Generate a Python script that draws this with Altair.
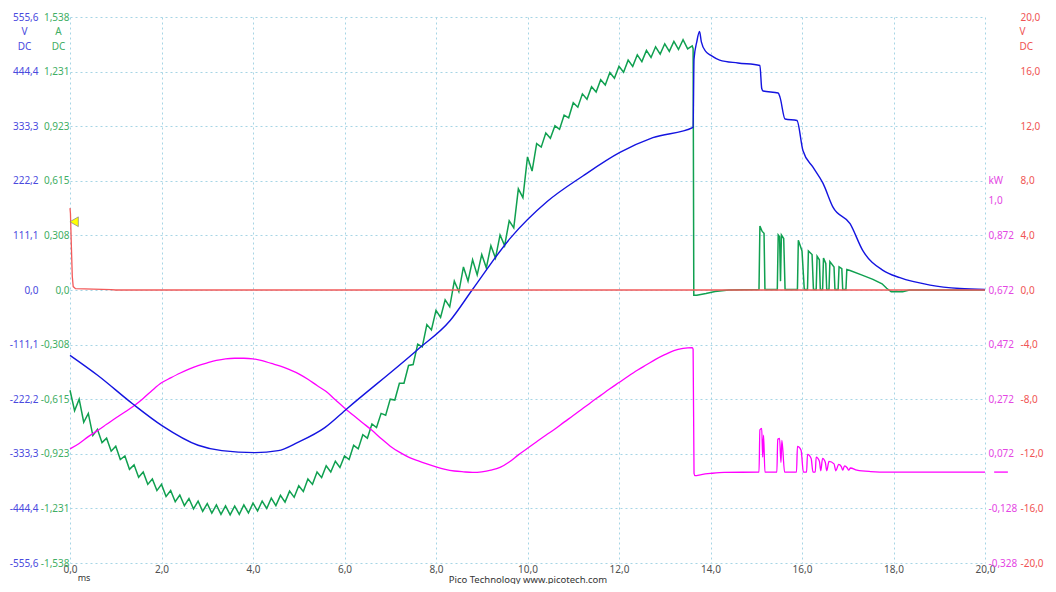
import altair as alt
import pandas as pd

FONT = "Noto Sans"
GRID = "#a6d5e5"

# ---------------- axis tick values ----------------
X_TICKS = [0, 2, 4, 6, 8, 10, 12, 14, 16, 18, 20]
V_TICKS = [-555.6, -444.4, -333.3, -222.2, -111.1, 0, 111.1, 222.2, 333.3, 444.4, 555.6]
A_TICKS = [-1.538, -1.231, -0.923, -0.615, -0.308, 0, 0.308, 0.615, 0.923, 1.231, 1.538]
KW_TICKS = [1.0, 0.872, 0.672, 0.472, 0.272, 0.072, -0.128, -0.328]
RV_TICKS = [-20, -16, -12, -8, -4, 0, 4, 8, 12, 16, 20]

# ---------------- Channel B: current (A), green ----------------
A_T_MAIN = [round(i * 0.1, 1) for i in range(137)]
A_MAIN = [
    -0.565, -0.680, -0.615, -0.745, -0.695, -0.820, -0.785, -0.860, -0.835, -0.908,
    -0.880, -0.955, -0.935, -1.010, -0.985, -1.055, -1.025, -1.095, -1.065, -1.130,
    -1.095, -1.163, -1.130, -1.193, -1.155, -1.215, -1.175, -1.233, -1.190, -1.247,
    -1.203, -1.257, -1.211, -1.264, -1.216, -1.267, -1.217, -1.264, -1.211, -1.256,
    -1.201, -1.245, -1.189, -1.231, -1.173, -1.215, -1.157, -1.195, -1.133, -1.168,
    -1.103, -1.135, -1.065, -1.095, -1.025, -1.057, -0.990, -1.025, -0.965, -1.000,
    -0.935, -0.955, -0.875, -0.895, -0.815, -0.835, -0.755, -0.775, -0.695, -0.705,
    -0.615, -0.620, -0.525, -0.525, -0.425, -0.420, -0.305, -0.320, -0.195, -0.225,
    -0.115, -0.155, -0.055, -0.095, 0.050, -0.010, 0.130, 0.050, 0.170, 0.085,
    0.200, 0.125, 0.250, 0.180, 0.310, 0.250, 0.390, 0.350, 0.570, 0.520,
    0.750, 0.670, 0.825, 0.805, 0.885, 0.855, 0.925, 0.905, 0.985, 0.970,
    1.055, 1.030, 1.105, 1.075, 1.145, 1.115, 1.185, 1.155, 1.225, 1.193,
    1.260, 1.227, 1.295, 1.260, 1.325, 1.287, 1.350, 1.310, 1.370, 1.329,
    1.387, 1.344, 1.400, 1.355, 1.410, 1.358, 1.375,
]
A_TAIL = [
    (13.62, 1.36), (13.635, -0.03), (13.70, -0.03), (13.90, -0.02), (14.10, -0.008),
    (14.40, 0.0), (15.06, 0.003), (15.08, 0.36), (15.13, 0.33), (15.17, 0.32),
    (15.19, 0.003), (15.46, 0.003), (15.48, 0.31), (15.51, 0.30), (15.53, 0.05),
    (15.55, 0.31), (15.60, 0.29), (15.63, 0.003), (15.90, 0.003), (15.92, 0.28),
    (16.00, 0.22), (16.05, 0.003), (16.12, 0.003), (16.14, 0.22), (16.22, 0.20),
    (16.25, 0.003), (16.31, 0.003), (16.33, 0.19), (16.38, 0.17), (16.40, 0.003),
    (16.45, 0.003), (16.47, 0.18), (16.52, 0.15), (16.54, 0.003), (16.59, 0.003),
    (16.61, 0.16), (16.70, 0.13), (16.72, 0.003), (16.79, 0.003), (16.81, 0.13),
    (16.87, 0.12), (16.89, 0.003), (16.96, 0.003), (16.98, 0.115), (17.05, 0.11),
    (17.30, 0.085), (17.55, 0.06), (17.75, 0.035), (17.85, 0.01), (17.95, -0.01),
    (18.20, -0.01), (18.35, 0.0), (20.0, 0.0),
]

# ---------------- Channel A: voltage (V), blue ----------------
V_DATA = [
    (0.0, -133), (0.61, -174), (1.36, -231), (2.01, -276), (2.8, -316), (3.32, -327),
    (4.04, -331), (4.55, -327), (4.98, -310), (5.57, -280), (6.06, -241), (7.59, -122),
    (8.31, -62), (8.79, 0), (9.62, 105), (10.43, 180), (11.21, 232), (12.02, 280),
    (12.74, 310), (13.62, 331), (13.64, 470), (13.70, 505), (13.76, 526), (13.80, 505),
    (13.90, 485), (14.0, 478), (14.2, 468), (14.6, 462), (15.08, 457), (15.12, 410),
    (15.15, 405), (15.48, 401), (15.52, 392), (15.63, 348), (15.89, 345), (16.02, 284),
    (16.24, 250), (16.46, 217), (16.68, 168), (17.05, 135), (17.33, 80), (17.77, 40),
    (18.14, 25), (18.8, 10), (19.45, 3), (20.0, 1),
]

# ---------------- Math channel: power (kW), magenta ----------------
KW_T_MAIN = [round(i * 0.2, 1) for i in range(69)]
KW_MAIN = [
    0.090, 0.110, 0.135, 0.157, 0.180, 0.203, 0.225, 0.248, 0.275, 0.305,
    0.332, 0.350, 0.367, 0.382, 0.395, 0.405, 0.414, 0.420, 0.422, 0.422,
    0.420, 0.413, 0.403, 0.393, 0.380, 0.365, 0.345, 0.322, 0.300, 0.270,
    0.240, 0.212, 0.185, 0.158, 0.128, 0.100, 0.078, 0.060, 0.047, 0.035,
    0.024, 0.015, 0.009, 0.006, 0.004, 0.006, 0.012, 0.022, 0.042, 0.068,
    0.092, 0.116, 0.140, 0.163, 0.188, 0.212, 0.237, 0.262, 0.286, 0.310,
    0.333, 0.356, 0.378, 0.398, 0.418, 0.435, 0.450, 0.458, 0.461,
]
KW_TAIL = [
    (13.62, 0.455), (13.64, 0.0), (13.66, -0.008), (13.8, -0.004), (14.0, 0.0),
    (14.3, 0.004), (15.06, 0.005), (15.08, 0.160), (15.12, 0.165), (15.14, 0.06),
    (15.16, 0.140), (15.19, 0.005), (15.45, 0.005), (15.47, 0.125), (15.51, 0.128),
    (15.54, 0.04), (15.56, 0.121), (15.62, 0.005), (15.88, 0.005), (15.90, 0.099),
    (15.98, 0.085), (16.03, 0.005), (16.10, 0.005), (16.12, 0.070), (16.20, 0.055),
    (16.24, 0.005), (16.29, 0.005), (16.31, 0.060), (16.38, 0.045), (16.41, 0.010),
    (16.45, 0.055), (16.51, 0.040), (16.54, 0.010), (16.59, 0.044), (16.70, 0.035),
    (16.74, 0.010), (16.80, 0.033), (16.86, 0.025), (16.89, 0.012), (16.93, 0.028),
    (16.99, 0.020), (17.02, 0.012), (17.06, 0.020), (17.20, 0.012), (17.50, 0.007),
    (17.90, 0.005), (20.0, 0.005),
]
KW_MARK = [(20.2, 0.005), (20.5, 0.005)]

# ---------------- Channel C: voltage (V), red ----------------
RV_DATA = [(0.0, 6.0), (0.01, 5.6), (0.03, 3.2), (0.05, 1.0), (0.07, 0.25),
           (0.12, 0.1), (0.9, 0.03), (1.0, 0.0), (20.0, 0.0)]
TRIGGER = [(0.09, 5.0)]

# ---------------- data frames ----------------
df_a = pd.DataFrame({"t": A_T_MAIN + [p[0] for p in A_TAIL],
                     "a": A_MAIN + [p[1] for p in A_TAIL]})
df_v = pd.DataFrame(V_DATA, columns=["t", "v"])
df_kw = pd.concat([
    pd.DataFrame({"t": KW_T_MAIN + [p[0] for p in KW_TAIL],
                  "kw": KW_MAIN + [p[1] for p in KW_TAIL], "seg": 0}),
    pd.DataFrame({"t": [p[0] for p in KW_MARK], "kw": [p[1] for p in KW_MARK], "seg": 1}),
], ignore_index=True)
df_rv = pd.DataFrame(RV_DATA, columns=["t", "rv"])
df_trig = pd.DataFrame(TRIGGER, columns=["t", "rv"])
df_ms = pd.DataFrame({"txt": ["ms"]})

BLUE_L = "#4a4ade"
GREEN_L = "#3fae64"
RED_L = "#f05454"
MAG_L = "#e446e4"

COMMA = "replace(replace(datum.label, '.', ','), '\u2212', '-')"

def common_axis(**kw):
    base = dict(ticks=False, domain=False, labelFont=FONT, labelFontSize=10,
                labelOverlap=False, titleFont=FONT, titleFontSize=10,
                titleFontWeight="normal", titleAngle=0, titleLineHeight=15)
    base.update(kw)
    return alt.Axis(**base)

X = alt.X("t:Q",
          scale=alt.Scale(domain=[0, 20], nice=False, zero=False),
          axis=alt.Axis(values=X_TICKS, format=".1f", labelExpr=COMMA,
                        grid=True, gridColor=GRID, gridDash=[2, 3], gridWidth=1,
                        ticks=False, domain=False, labelFlush=False, labelOverlap=False,
                        labelFont=FONT, labelFontSize=10, labelColor="#505050",
                        labelPadding=1,
                        title="Pico Technology   www.picotech.com",
                        titleFont=FONT, titleFontSize=9.5, titleFontWeight="normal",
                        titleColor="#333333", titleBaseline="alphabetic",
                        titleX=457.5, titleY=19, titleAlign="center"))

green = alt.Chart(df_a).mark_line(color="#10a050", strokeWidth=1.5).encode(
    x=X,
    y=alt.Y("a:Q", scale=alt.Scale(domain=[-1.538, 1.538], nice=False, zero=False),
            axis=common_axis(orient="left", values=A_TICKS, grid=False,
                             labelExpr="datum.value == 0 ? '0,0' : replace(replace(format(datum.value, '.3f'), '.', ','), '\u2212', '-')",
                             labelColor=GREEN_L, labelPadding=1,
                             title=["A", "DC"], titleColor=GREEN_L,
                             titleX=-12, titleY=9, titleAlign="center", titleBaseline="top")),
)

magenta = alt.Chart(df_kw).mark_line(color="#ff00ff", strokeWidth=1.3,
                                     interpolate="monotone").encode(
    x=X,
    y=alt.Y("kw:Q", scale=alt.Scale(domain=[-0.328, 1.672], nice=False, zero=False),
            axis=common_axis(orient="right", values=KW_TICKS, grid=False,
                             labelExpr="datum.value == 1 ? '1,0' : replace(replace(format(datum.value, '.3f'), '.', ','), '\u2212', '-')",
                             labelColor=MAG_L, labelPadding=3,
                             title="kW", titleColor=MAG_L,
                             titleX=3, titleY=163, titleAlign="left", titleBaseline="middle")),
    detail="seg:N",
)

blue = alt.Chart(df_v).mark_line(color="#1414e0", strokeWidth=1.4,
                                 interpolate="monotone").encode(
    x=X,
    y=alt.Y("v:Q", scale=alt.Scale(domain=[-555.6, 555.6], nice=False, zero=False),
            axis=common_axis(orient="left", values=V_TICKS, format=".1f", labelExpr=COMMA,
                             grid=True, gridColor=GRID, gridDash=[2, 3], gridWidth=1,
                             labelColor=BLUE_L, labelPadding=32,
                             title=["V", "DC"], titleColor=BLUE_L,
                             titleX=-46, titleY=9, titleAlign="center", titleBaseline="top")),
)

red = alt.Chart(df_rv).mark_line(color="#f25a5a", strokeWidth=1.3).encode(
    x=X,
    y=alt.Y("rv:Q", scale=alt.Scale(domain=[-20, 20], nice=False, zero=False),
            axis=common_axis(orient="right", values=RV_TICKS, format=".1f", labelExpr=COMMA,
                             grid=False, labelColor=RED_L, labelPadding=35,
                             title=["V", "DC"], titleColor=RED_L,
                             titleX=34, titleY=9, titleAlign="left", titleBaseline="top")),
)

trigger = alt.Chart(df_trig).mark_point(shape="triangle-left", filled=True, size=95,
                                         fill="#ffff00", stroke="#808080",
                                         strokeWidth=0.7, opacity=1).encode(
    x=X,
    y=alt.Y("rv:Q", scale=alt.Scale(domain=[-20, 20], nice=False, zero=False), axis=None),
)

ms = alt.Chart(df_ms).mark_text(font=FONT, fontSize=9, color="#333333",
                                align="center", baseline="alphabetic").encode(
    x=alt.value(14), y=alt.value(564), text="txt:N")

chart = alt.layer(green, magenta, blue, red, trigger, ms).resolve_scale(
    y="independent"
).properties(
    width=915, height=546,
    autosize=alt.AutoSizeParams(type="none"),
    padding={"left": 62, "top": 9, "right": 63, "bottom": 21},
).configure_view(stroke=None)

chart.save("out.html", embed_options={"renderer": "svg", "actions": False})
